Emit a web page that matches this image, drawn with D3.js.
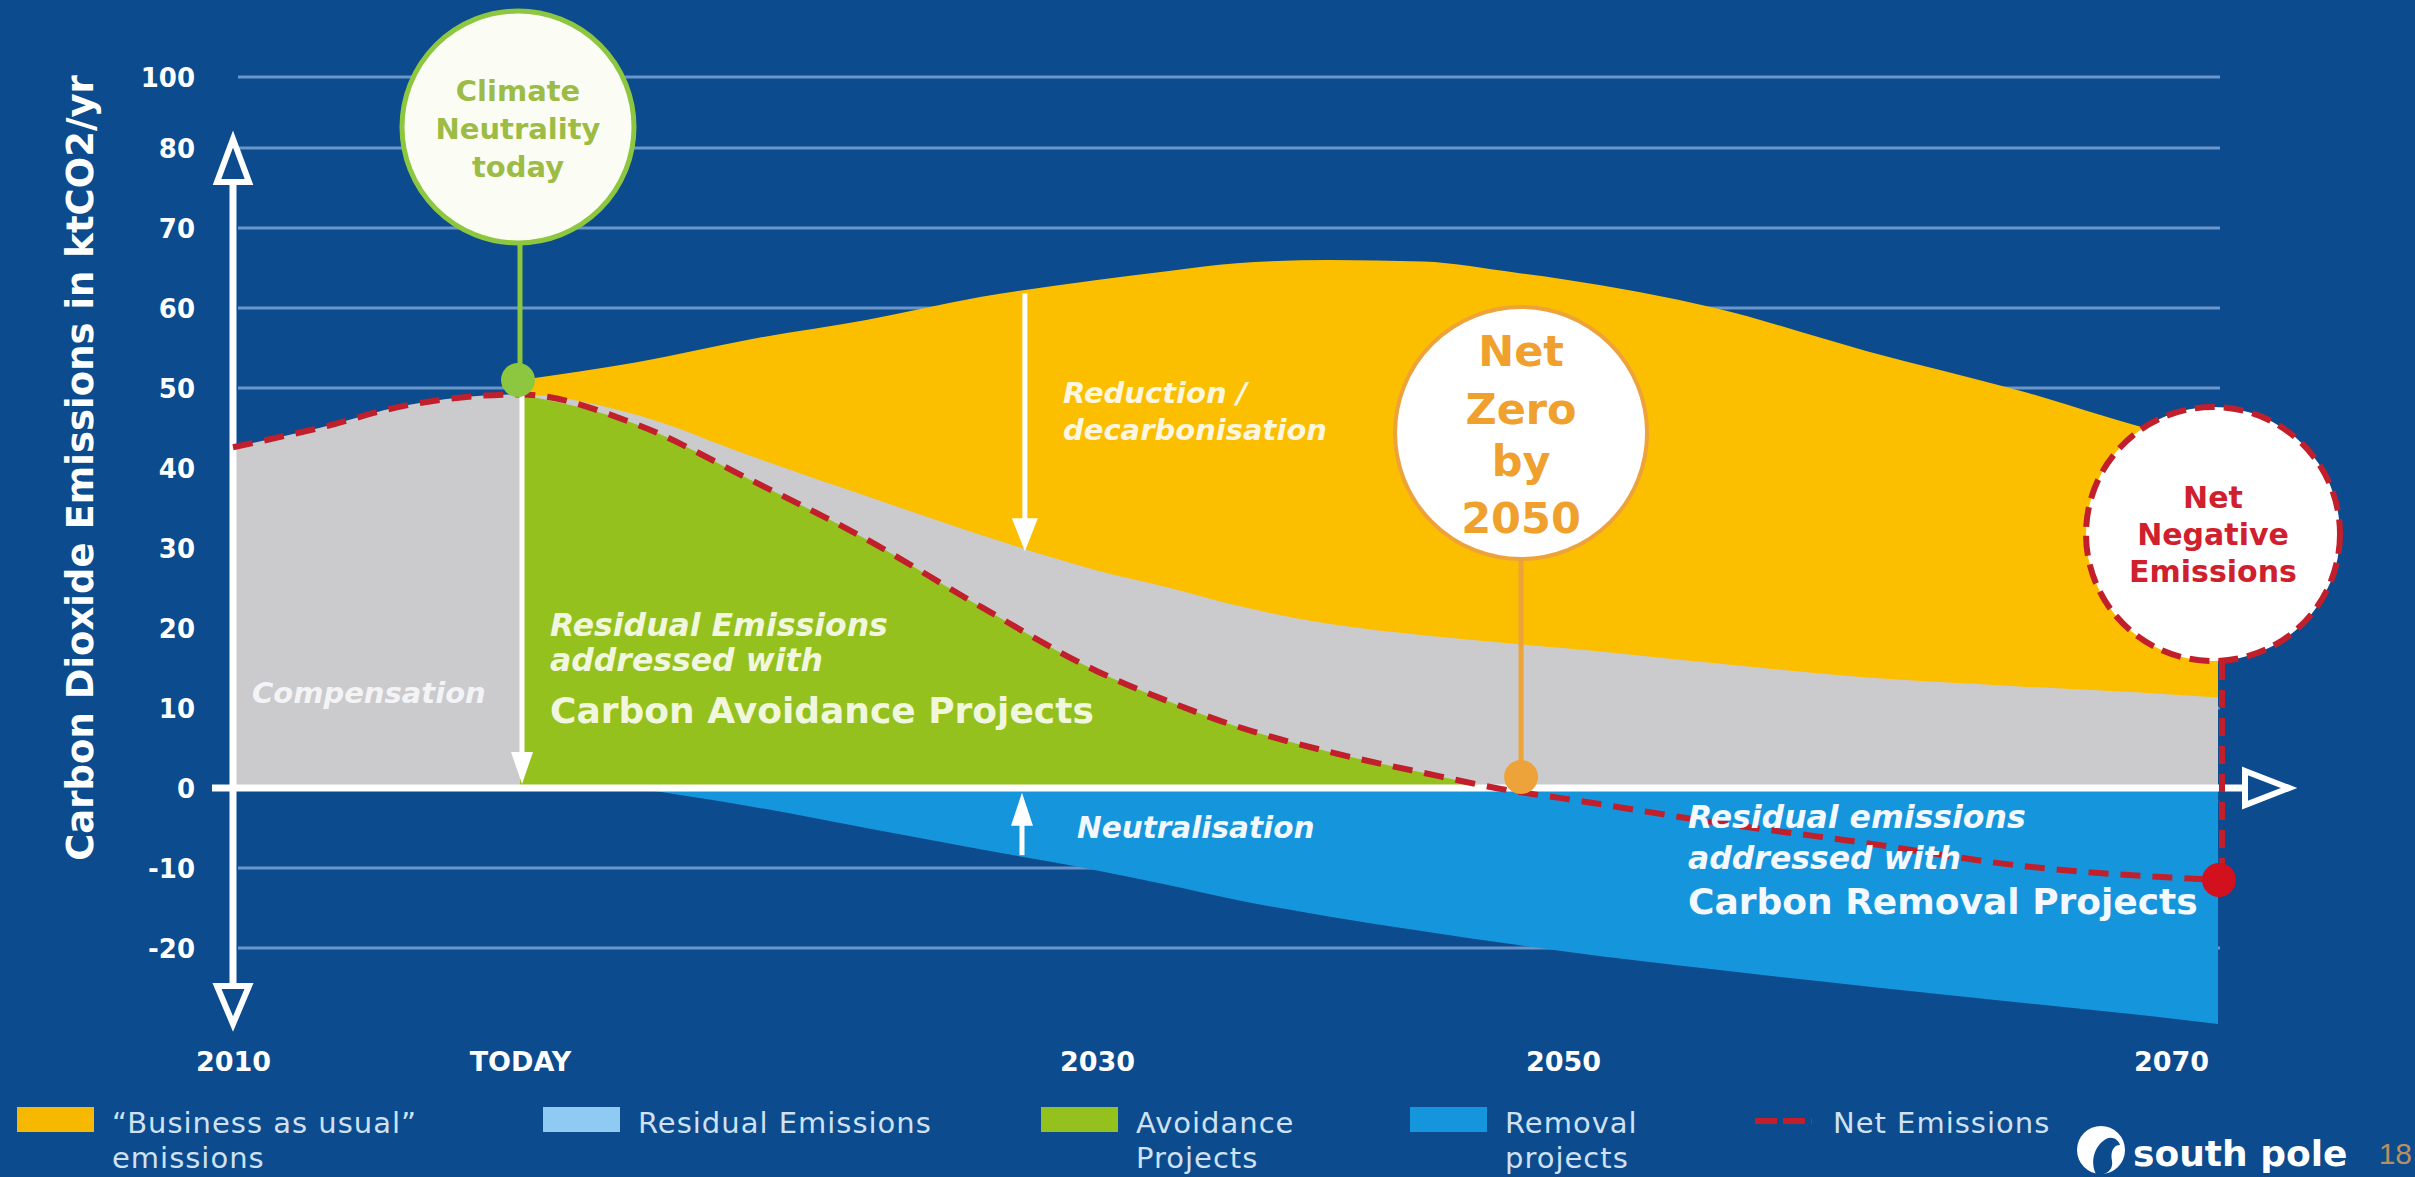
<!DOCTYPE html>
<html>
<head>
<meta charset="utf-8">
<script src="https://cdn.jsdelivr.net/npm/d3@7"></script>
<style>
  html, body { margin: 0; padding: 0; background: #0b4c91; overflow: hidden; }
  svg { display: block; }
</style>
</head>
<body>
<svg id="chart" width="2415" height="1177"></svg>
<script>
// ---- Emission pathway (ktCO2/yr) ----
const years        = [2010, 2013, 2016, 2020, 2022, 2024, 2026, 2028, 2030, 2033, 2036, 2040, 2044, 2048, 2050, 2055, 2060, 2065, 2070, 2072];
const netEmissions = [42.6, 45.0, 47.8, 49.2, 45.5, 38.5, 31.1, 22.6, 14.6, 10.9, 7.7, 4.5, 1.9, -0.45, -1.3, -4.3, -6.9, -9.7, -11.2, -11.5];
const residual     = [42.6, 45.0, 47.8, 49.2, 46.7, 41.5, 36.5, 31.6, 27.2, 25.1, 22.8, 20.5, 19.1, 18.0, 17.5, 15.6, 13.8, 12.7, 11.7, 11.3];

const bauYears        = [2020, 2022, 2024, 2026, 2028, 2030, 2033, 2036, 2040, 2044, 2048, 2050, 2055, 2060, 2065, 2070, 2072];
const businessAsUsual = [51.0, 53.2, 56.1, 58.5, 61.4, 63.5, 64.6, 65.6, 66.0, 65.8, 64.4, 63.6, 60.0, 54.6, 49.7, 44.2, 43.0];

const avoidanceYears = [2020, 2022, 2024, 2026, 2028, 2030, 2033, 2036, 2040, 2044, 2047];
const avoidance      = [49.2, 45.5, 38.5, 31.1, 22.6, 14.6, 10.9, 7.7, 4.5, 1.9, 0];

const removalYears = [2022, 2024, 2026, 2028, 2030, 2033, 2036, 2040, 2044, 2048, 2050, 2055, 2060, 2065, 2070, 2072];
const removal      = [0, -2.3, -5.0, -7.7, -10.3, -12.1, -14.0, -16.1, -17.9, -19.6, -20.4, -22.7, -24.8, -26.8, -28.8, -29.5];

// ---- Axis ticks ----
const xTicks      = [2010, 2020, 2030, 2050, 2070];
const xTickLabels = ["2010", "TODAY", "2030", "2050", "2070"];
const yTicks      = [100, 80, 70, 60, 50, 40, 30, 20, 10, 0, -10, -20];

// ---- Milestones ----
const todayYear    = 2020;
const netZeroYear  = 2048.2;
const endYear      = 2072;

// ---- Legend ----
const legendLabels = [["“Business as usual”", "emissions"], ["Residual Emissions"], ["Avoidance", "Projects"], ["Removal", "projects"], ["Net Emissions"]];

// ---- Styling ----
const C = {
  bg: "#0b4b8e", grid: "#6b96c8", white: "#ffffff",
  bau: "#fcbf00", residual: "#cbcbcd", avoid: "#95c11f", removal: "#1596dc",
  net: "#c21f2c", green: "#8dc63f", greenText: "#9cbc45",
  orange: "#eda23a", orangeText: "#f0a02c", red: "#d0202e",
  legendText: "#cfe1f3", legendResidual: "#8fcaf2", legendBau: "#f7b900"
};
const BOLD = "'DejaVu Sans', 'Open Sans', sans-serif";
const LIGHT = "'DejaVu Sans', 'Liberation Sans', sans-serif";

const svg = d3.select("#chart");
svg.append("rect").attr("width", 2415).attr("height", 1177).attr("fill", C.bg);

// Piecewise scales: the time axis and the top of the value axis are stretched unevenly
const x = d3.scaleLinear().domain([2010, 2020, 2030, 2050, 2070, 2072]).range([233, 520, 1097, 1563, 2171, 2218]);
const y = d3.scaleLinear().domain([-20, 80, 100]).range([948, 148, 77]);

// ---- Gridlines ----
svg.append("g").selectAll("line")
  .data(yTicks.filter(d => d !== 0))
  .join("line")
  .attr("x1", x(2010) + 5).attr("x2", x(endYear) + 2)
  .attr("y1", d => y(d)).attr("y2", d => y(d))
  .attr("stroke", C.grid).attr("stroke-width", 3);

// ---- Areas ----
const curve = d3.curveMonotoneX;

// business-as-usual band (drawn down to zero, the residual area covers the lower part)
svg.append("path")
  .datum(bauYears.map((yr, i) => ({ year: yr, v: businessAsUsual[i] })))
  .attr("d", d3.area().x(d => x(d.year)).y0(y(0)).y1(d => y(d.v)).curve(curve))
  .attr("fill", C.bau);

svg.append("path")
  .datum(years.map((yr, i) => ({ year: yr, v: residual[i] })))
  .attr("d", d3.area().x(d => x(d.year)).y0(y(0)).y1(d => y(d.v)).curve(curve))
  .attr("fill", C.residual);

svg.append("path")
  .datum(avoidanceYears.map((yr, i) => ({ year: yr, v: avoidance[i] })))
  .attr("d", d3.area().x(d => x(d.year)).y0(y(0)).y1(d => y(d.v)).curve(curve))
  .attr("fill", C.avoid);

svg.append("path")
  .datum(removalYears.map((yr, i) => ({ year: yr, v: removal[i] })))
  .attr("d", d3.area().x(d => x(d.year)).y0(y(0)).y1(d => y(d.v)).curve(curve))
  .attr("fill", C.removal);

// ---- Axes lines and arrowheads ----
const axisG = svg.append("g");
const y0px = y(0), axX = x(2010);
axisG.append("line").attr("x1", axX - 21).attr("x2", 2244).attr("y1", y0px).attr("y2", y0px)
  .attr("stroke", C.white).attr("stroke-width", 7);
axisG.append("line").attr("x1", axX).attr("x2", axX).attr("y1", 183).attr("y2", 985)
  .attr("stroke", C.white).attr("stroke-width", 7);
const hollow = (pts) => axisG.append("path").attr("d", d3.line()(pts) + "Z")
  .attr("fill", C.bg).attr("stroke", C.white).attr("stroke-width", 6).attr("stroke-linejoin", "miter");
hollow([[axX - 16, 182], [axX, 139], [axX + 16, 182]]);
hollow([[axX - 16, 986], [axX, 1024], [axX + 16, 986]]);
hollow([[2245, y0px - 17], [2289, y0px], [2245, y0px + 17]]);

// ---- Net emissions ----
svg.append("path")
  .datum(years.map((yr, i) => ({ year: yr, v: netEmissions[i] })))
  .attr("d", d3.line().x(d => x(d.year)).y(d => y(d.v)).curve(curve))
  .attr("fill", "none").attr("stroke", C.net).attr("stroke-width", 6)
  .attr("stroke-dasharray", "20 12");

// ---- Tick labels ----
const gy = svg.append("g").attr("transform", "translate(195,0)")
  .call(d3.axisLeft(y).tickValues(yTicks).tickSize(0).tickPadding(0).tickFormat(d => String(d)));
gy.select(".domain").remove();
gy.selectAll("text").attr("fill", C.white).attr("dy", "0.36em")
  .style("font-family", BOLD).style("font-weight", "bold").style("font-size", "26px");

const gx = svg.append("g").attr("transform", "translate(0,1061)")
  .call(d3.axisBottom(x).tickValues(xTicks).tickSize(0).tickPadding(0).tickFormat((d, i) => xTickLabels[i]));
gx.select(".domain").remove();
gx.selectAll("text").attr("fill", C.white).attr("y", 0).attr("dy", "0.36em")
  .style("font-family", BOLD).style("font-weight", "bold").style("font-size", "27px");

svg.append("text")
  .attr("transform", "translate(80,468) rotate(-90)")
  .attr("text-anchor", "middle").attr("dominant-baseline", "central")
  .attr("fill", C.white).style("font-family", BOLD).style("font-weight", "bold").style("font-size", "37px")
  .text("Carbon Dioxide Emissions in ktCO2/yr");

// ---- Helper for multi-line labels ----
function label(xp, baselines, lines, opts) {
  const t = svg.append("text").attr("fill", opts.fill || C.white)
    .attr("text-anchor", opts.anchor || "start")
    .style("font-family", opts.family || BOLD)
    .style("font-weight", opts.weight || "bold")
    .style("font-style", opts.italic ? "italic" : "normal")
    .style("font-size", opts.size + "px");
  if (opts.spacing) t.style("letter-spacing", opts.spacing + "px");
  lines.forEach((ln, i) => {
    const s = t.append("tspan").attr("x", xp).attr("y", baselines[i]).text(ln);
    if (opts.sizes && opts.sizes[i]) s.style("font-size", opts.sizes[i] + "px");
    if (opts.styles && opts.styles[i]) s.style("font-style", opts.styles[i]);
  });
  return t;
}

// ---- Today: climate neutrality ----
const tx = x(todayYear);
const greenDotY = y(businessAsUsual[0]);
svg.append("line").attr("x1", tx).attr("x2", tx).attr("y1", 244).attr("y2", greenDotY)
  .attr("stroke", C.green).attr("stroke-width", 5);
svg.append("line").attr("x1", tx + 2).attr("x2", tx + 2).attr("y1", greenDotY + 10).attr("y2", y0px - 30)
  .attr("stroke", C.white).attr("stroke-width", 5);
svg.append("path").attr("d", d3.line()([[tx - 9, y0px - 36], [tx + 2, y0px - 4], [tx + 13, y0px - 36]]) + "Z")
  .attr("fill", C.white);
svg.append("circle").attr("cx", tx - 2).attr("cy", greenDotY).attr("r", 17).attr("fill", C.green);
svg.append("circle").attr("cx", tx - 2).attr("cy", 127).attr("r", 116)
  .attr("fill", "#fbfdf5").attr("stroke", C.green).attr("stroke-width", 5);
label(tx - 2, [101, 139, 177], ["Climate", "Neutrality", "today"], { anchor: "middle", size: 29, fill: C.greenText });

// ---- Reduction and neutralisation arrows ----
const redX = x(2028.75);
svg.append("line").attr("x1", redX).attr("x2", redX).attr("y1", y(61.8)).attr("y2", y(29.6) - 28)
  .attr("stroke", C.white).attr("stroke-width", 5);
svg.append("path").attr("d", d3.line()([[redX - 13, y(29.6) - 33], [redX, y(29.6)], [redX + 13, y(29.6) - 33]]) + "Z")
  .attr("fill", C.white);
const neuX = x(2028.7);
svg.append("line").attr("x1", neuX).attr("x2", neuX).attr("y1", y(-8.4)).attr("y2", y(-0.6) + 28)
  .attr("stroke", C.white).attr("stroke-width", 5);
svg.append("path").attr("d", d3.line()([[neuX - 11, y(-0.6) + 33], [neuX, y(-0.6)], [neuX + 11, y(-0.6) + 33]]) + "Z")
  .attr("fill", C.white);

// ---- Net zero marker ----
const nzx = x(netZeroYear);
svg.append("line").attr("x1", nzx).attr("x2", nzx).attr("y1", 558).attr("y2", y0px - 11)
  .attr("stroke", C.orange).attr("stroke-width", 5);
svg.append("circle").attr("cx", nzx).attr("cy", y0px - 11).attr("r", 17).attr("fill", C.orange);
svg.append("circle").attr("cx", nzx).attr("cy", 433).attr("r", 126)
  .attr("fill", "#ffffff").attr("stroke", C.orange).attr("stroke-width", 4);
label(nzx, [366, 424, 476, 533], ["Net", "Zero", "by", "2050"], { anchor: "middle", size: 43, fill: C.orangeText });

// ---- Net negative marker ----
const ex = x(endYear);
const endNet = netEmissions[netEmissions.length - 1];
svg.append("line").attr("x1", ex + 4).attr("x2", ex + 4).attr("y1", 662).attr("y2", y(endNet))
  .attr("stroke", C.net).attr("stroke-width", 6).attr("stroke-dasharray", "18 10");
svg.append("circle").attr("cx", ex + 1).attr("cy", y(endNet)).attr("r", 17).attr("fill", "#d3101e");
svg.append("circle").attr("cx", ex - 5).attr("cy", 534).attr("r", 127)
  .attr("fill", "#ffffff").attr("stroke", C.net).attr("stroke-width", 6).attr("stroke-dasharray", "20 9");
label(ex - 5, [508, 545, 582], ["Net", "Negative", "Emissions"], { anchor: "middle", size: 30, fill: C.red });

// ---- Region annotations ----
label(252, [703], ["Compensation"], { size: 29, italic: true, fill: "#f4f4f6" });
label(550, [636, 671, 723], ["Residual Emissions", "addressed with", "Carbon Avoidance Projects"],
  { size: 31.5, sizes: [31.5, 31.5, 36], styles: ["italic", "italic", "normal"], fill: "#f1f7df" });
label(1063, [403, 440], ["Reduction /", "decarbonisation"], { size: 29, italic: true, fill: "#fdf6e0" });
label(1077, [838], ["Neutralisation"], { size: 29.5, italic: true, fill: "#f2f8ff" });
label(1688, [828, 869, 914], ["Residual emissions", "addressed  with", "Carbon Removal Projects"],
  { size: 31.5, sizes: [31.5, 31.5, 36], styles: ["italic", "italic", "normal"], fill: "#f4f8ff" });

// ---- Legend ----
const legendX = [17, 543, 1041, 1410, 1755];
const legendFill = [C.legendBau, C.legendResidual, C.avoid, C.removal, null];
const lg = svg.append("g");
legendLabels.forEach((lines, i) => {
  const lx = legendX[i];
  const opts = { size: 29, weight: "normal", family: LIGHT, fill: C.legendText, spacing: 1 };
  if (legendFill[i]) {
    lg.append("rect").attr("x", lx).attr("y", 1107).attr("width", 77).attr("height", 25).attr("fill", legendFill[i]);
    label(lx + 95, [1133, 1168], lines, opts);
  } else {
    lg.append("line").attr("x1", lx).attr("x2", lx + 57).attr("y1", 1121).attr("y2", 1121)
      .attr("stroke", C.net).attr("stroke-width", 6).attr("stroke-dasharray", "22 6");
    label(lx + 78, [1133], lines, opts);
  }
});

// ---- Brand mark and page number ----
svg.append("circle").attr("cx", 2101).attr("cy", 1150).attr("r", 24).attr("fill", C.white);
svg.append("path")
  .attr("d", "M2096,1174 C2090,1162 2094,1146 2106,1139 C2112,1136 2118,1139 2120,1145 C2114,1145 2110,1151 2112,1161 C2113,1167 2110,1172 2104,1174 Z")
  .attr("fill", C.bg);
svg.append("text").attr("x", 2133).attr("y", 1166).attr("fill", C.white)
  .style("font-family", BOLD).style("font-weight", "bold").style("font-size", "36px").text("south pole");
svg.append("text").attr("x", 2412).attr("y", 1164).attr("text-anchor", "end").attr("fill", "#b88f5e")
  .style("font-family", "'Liberation Sans Narrow', 'Liberation Sans', sans-serif").style("font-size", "30px").text("18");
</script>
</body>
</html>
